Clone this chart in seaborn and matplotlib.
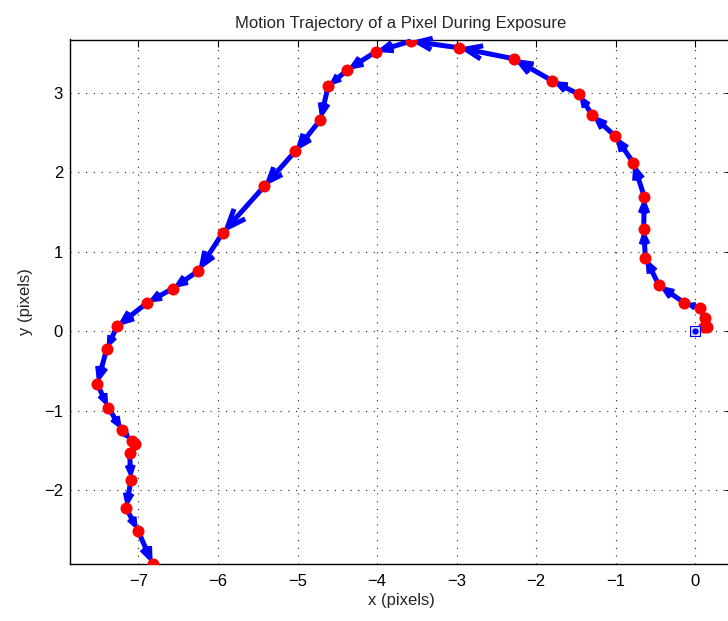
import numpy as np
import pandas as pd
import matplotlib
matplotlib.use("Agg")
import matplotlib.pyplot as plt
import seaborn as sns

# Trajectory points (pixels)
x_vals = [0.0, 0.104, 0.147, 0.117, 0.054, -0.138, -0.457, -0.629, -0.650, -0.642,
          -0.780, -1.010, -1.296, -1.463, -1.799, -2.285, -2.973, -3.576, -4.017, -4.377,
          -4.616, -4.713, -5.031, -5.421, -5.941, -6.248, -6.570, -6.893, -7.270, -7.400,
          -7.518, -7.379, -7.204, -7.086, -7.044, -7.111, -7.094, -7.153, -7.006, -6.821]
y_vals = [0.0, 0.054, 0.054, 0.168, 0.293, 0.356, 0.576, 0.923, 1.288, 1.691,
          2.120, 2.456, 2.720, 2.981, 3.152, 3.430, 3.568, 3.652, 3.518, 3.287,
          3.082, 2.661, 2.263, 1.822, 1.238, 0.759, 0.537, 0.356, 0.059, -0.227,
          -0.664, -0.961, -1.247, -1.382, -1.423, -1.537, -1.868, -2.229, -2.510, -2.931]
x_ticks = [-7, -6, -5, -4, -3, -2, -1, 0]
y_ticks = [-2, -1, 0, 1, 2, 3]

sns.set_style("white")
plt.rcParams['font.family'] = ['Liberation Sans', 'DejaVu Sans']

df = pd.DataFrame({"x": x_vals, "y": y_vals})

fig = plt.figure(figsize=(7.28, 6.21), dpi=100)
ax = fig.add_axes([70 / 728, 57 / 621, 662 / 728, 524.5 / 621])
ax.set_xlim(-7.86, 0.46)
ax.set_ylim(-2.931, 3.672)

# grid
ax.set_axisbelow(True)
ax.grid(True, color='#222222', linestyle=(0, (1, 6)), linewidth=0.8)

# arrows between consecutive points
fig.canvas.draw()
pts = ax.transData.transform(np.column_stack([x_vals, y_vals]))
for i in range(len(x_vals) - 1):
    L_px = np.hypot(*(pts[i + 1] - pts[i]))
    L_pt = L_px * 72 / 100
    hl = max(0.3 * L_pt, 0.1)
    hw = max(0.12 * L_pt, 0.05)
    ax.annotate('', xy=(x_vals[i + 1], y_vals[i + 1]), xytext=(x_vals[i], y_vals[i]),
                arrowprops=dict(arrowstyle=f'->,head_length={hl:.3f},head_width={hw:.3f}',
                                color='blue', lw=3.6, shrinkA=0, shrinkB=0,
                                mutation_scale=1, joinstyle='miter', capstyle='butt'),
                zorder=3)

# red markers (all but start)
sns.scatterplot(data=df.iloc[1:], x="x", y="y", ax=ax, color='red', s=75,
                edgecolor='red', linewidth=0, zorder=5, legend=False)
# start point
sns.scatterplot(data=df.iloc[:1], x="x", y="y", ax=ax, marker='s', s=50,
                facecolor='#dde0ff', edgecolor='blue', linewidth=0.8, zorder=6, legend=False)
sns.scatterplot(data=df.iloc[:1], x="x", y="y", ax=ax, color='blue', s=20,
                linewidth=0, zorder=7, legend=False)

ax.set_xticks(x_ticks)
ax.set_yticks(y_ticks)
ax.set_xticklabels([f"\u2212{abs(t)}" if t < 0 else str(t) for t in x_ticks])
ax.set_yticklabels([f"\u2212{abs(t)}" if t < 0 else str(t) for t in y_ticks])
ax.tick_params(direction='in', length=5, width=0.8, top=True, right=True,
               labelsize=12, colors='k', pad=7)
ax.tick_params(axis='y', pad=5)
for s in ax.spines.values():
    s.set_color('k')
    s.set_linewidth(1.0)

ax.set_xlabel("x (pixels)", fontsize=12, labelpad=3)
ax.set_ylabel("y (pixels)", fontsize=12, labelpad=8)
ax.set_title("Motion Trajectory of a Pixel During Exposure", fontsize=12, pad=8)

fig.savefig("out.png", dpi=100)
